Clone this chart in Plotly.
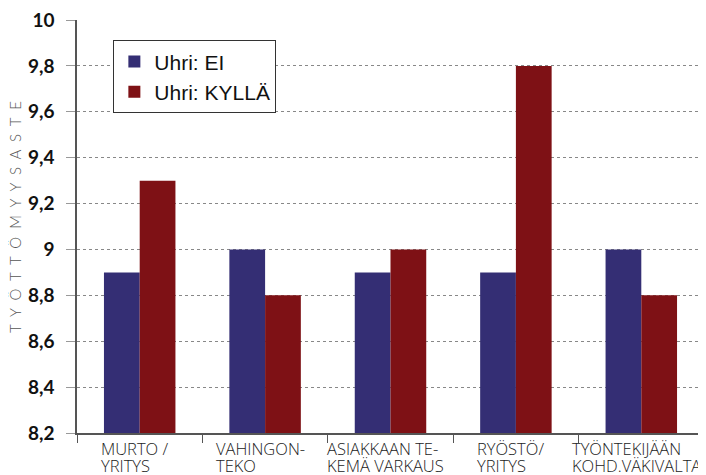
import plotly.graph_objects as go

# Data
categories = ["MURTO /<br>YRITYS", "VAHINGON-<br>TEKO", "ASIAKKAAN TE-<br>KEMÄ VARKAUS",
              "RYÖSTÖ/<br>YRITYS", "TYÖNTEKIJÄÄN<br>KOHD.VÄKIVALTA"]
uhri_ei = [8.9, 9.0, 8.9, 8.9, 9.0]
uhri_kylla = [9.3, 8.8, 9.0, 9.8, 8.8]
y_ticks = [8.2, 8.4, 8.6, 8.8, 9.0, 9.2, 9.4, 9.6, 9.8, 10.0]
y_tick_labels = ["8,2", "8,4", "8,6", "8,8", "9", "9,2", "9,4", "9,6", "9,8", "10"]
y_title = "TYÖTTÖMYYSASTE"

cat_ids = list(range(len(categories)))

fig = go.Figure()
fig.add_trace(go.Bar(x=cat_ids, y=uhri_ei, name="Uhri: EI",
                     marker=dict(color="#342e74", line=dict(width=0))))
fig.add_trace(go.Bar(x=cat_ids, y=uhri_kylla, name="Uhri: KYLLÄ",
                     marker=dict(color="#7e1115", line=dict(width=0))))

# category labels: two-line, left aligned, tight line spacing.
# each line drawn as its own annotation; the other line is kept invisible so
# both blocks have the same width and left edge
hide = "<span style='color:rgba(0,0,0,0)'>%s</span>"
lab_font = dict(family="Open Sans", size=16.5, color="#222222", weight=300)
for i, lab in enumerate(categories):
    l1, l2 = lab.split("<br>")
    fig.add_annotation(x=i, y=0, xref="x", yref="paper", text=l1 + "<br>" + hide % l2,
                       showarrow=False, align="left", xanchor="center", yanchor="top",
                       xshift=-5, yshift=-2, font=lab_font)
    fig.add_annotation(x=i, y=0, xref="x", yref="paper", text=hide % l1 + "<br>" + l2,
                       showarrow=False, align="left", xanchor="center", yanchor="top",
                       xshift=-5, yshift=2.5, font=lab_font)

fig.add_annotation(x=-0.099, y=0.523, xref="paper", yref="paper",
                   text="\u00a0 ".join(y_title), textangle=-90, showarrow=False,
                   xanchor="center", yanchor="middle",
                   font=dict(family="Lato", size=15, color="#555555", weight=300))

# page body has an 8px margin, so the margins are shifted to compensate
fig.update_layout(
    width=706, height=475,
    margin=dict(l=69, r=10, t=12, b=50),
    paper_bgcolor="white", plot_bgcolor="white",
    barmode="group", bargap=0.43, bargroupgap=0,
    showlegend=True,
    legend=dict(x=0.058, y=0.951, xanchor="left", yanchor="top",
                bgcolor="white", bordercolor="#333333", borderwidth=1,
                font=dict(family="Liberation Sans", size=21, color="#111111")),
)
fig.update_xaxes(range=[-0.5, 4.5], tickvals=[-0.5, 0.5, 1.5, 2.5, 3.5, 4.5],
                 showticklabels=False, ticks="outside", ticklen=8, tickcolor="#555555",
                 showline=True, linecolor="#555555", linewidth=1.5, showgrid=False,
                 zeroline=False, automargin=False)
fig.update_yaxes(range=[8.2, 10.0001], tickvals=y_ticks, ticktext=y_tick_labels,
                 ticks="outside", ticklen=9, tickcolor="#999999",
                 tickfont=dict(family="Lato", size=19, color="#111111", weight="bold"),
                 ticklabelstandoff=8, ticklabeloverflow="allow", automargin=False,
                 showline=True, linecolor="#555555", linewidth=1.5,
                 showgrid=True, gridcolor="#888888", griddash="dot", gridwidth=1,
                 zeroline=False)

fig.write_html("out.html")
